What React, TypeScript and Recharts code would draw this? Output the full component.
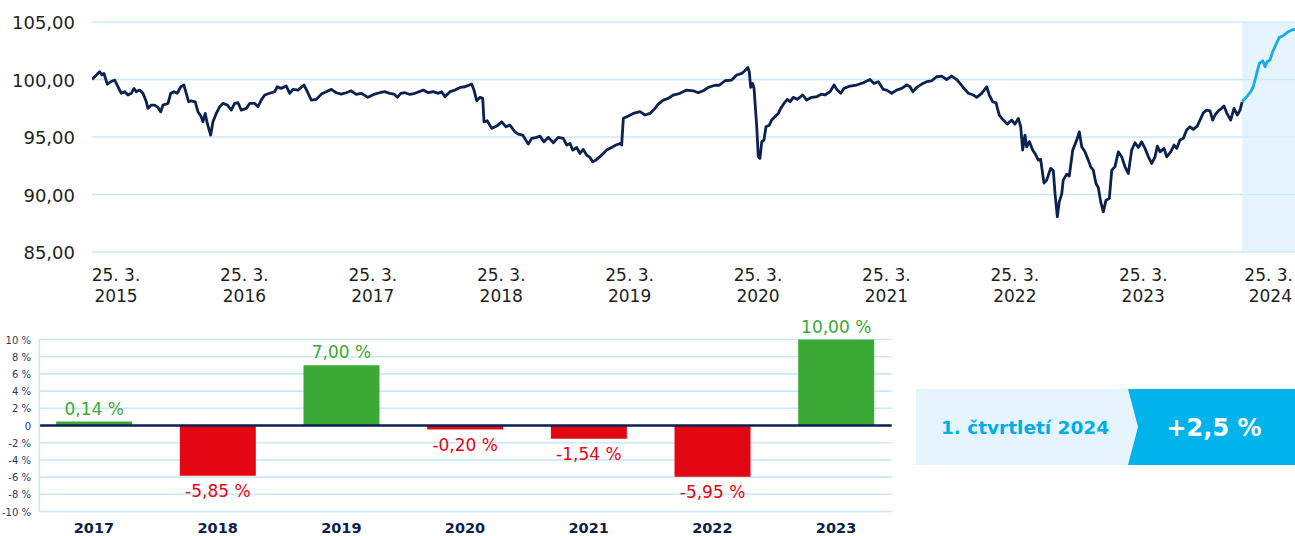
import React from 'react';
import {
  LineChart,
  Line,
  XAxis,
  YAxis,
  CartesianGrid,
  ReferenceArea,
  BarChart,
  Bar,
  Cell,
  LabelList,
  ReferenceLine,
} from 'recharts';

const FONT = '"DejaVu Sans", "Noto Sans", sans-serif';

// ---- Top chart: index value (years since 1. 1. 2015) ----
const historyT = [
  0.043, 0.076, 0.103, 0.121, 0.136, 0.162, 0.188, 0.22, 0.245, 0.271, 0.298, 0.323, 0.349, 0.37, 0.388,
  0.414, 0.44, 0.466, 0.479, 0.505, 0.531, 0.557, 0.578, 0.596, 0.635, 0.656, 0.681, 0.707, 0.734, 0.759,
  0.777, 0.796, 0.816, 0.847, 0.868, 0.894, 0.907, 0.925, 0.941, 0.967, 0.985, 1.011, 1.037, 1.063, 1.097,
  1.128, 1.154, 1.18, 1.206, 1.245, 1.271, 1.31, 1.336, 1.361, 1.388, 1.427, 1.466, 1.486, 1.517, 1.556,
  1.583, 1.608, 1.647, 1.694, 1.72, 1.751, 1.79, 1.829, 1.868, 1.907, 1.945, 1.984, 2.023, 2.062, 2.101,
  2.14, 2.192, 2.245, 2.283, 2.322, 2.361, 2.395, 2.421, 2.447, 2.481, 2.519, 2.558, 2.623, 2.662, 2.701,
  2.74, 2.766, 2.792, 2.831, 2.87, 2.909, 2.948, 3.0, 3.018, 3.039, 3.065, 3.086, 3.096, 3.121, 3.156,
  3.195, 3.234, 3.267, 3.298, 3.337, 3.363, 3.397, 3.441, 3.467, 3.506, 3.532, 3.563, 3.597, 3.636, 3.674,
  3.713, 3.74, 3.766, 3.787, 3.818, 3.843, 3.869, 3.896, 3.921, 3.942, 3.974, 4.012, 4.051, 4.09, 4.124,
  4.155, 4.168, 4.181, 4.22, 4.259, 4.311, 4.35, 4.389, 4.428, 4.453, 4.492, 4.531, 4.57, 4.622, 4.674,
  4.726, 4.765, 4.804, 4.843, 4.895, 4.928, 4.973, 5.025, 5.064, 5.103, 5.128, 5.15, 5.162, 5.173, 5.188,
  5.199, 5.22, 5.232, 5.245, 5.259, 5.276, 5.292, 5.318, 5.336, 5.362, 5.388, 5.407, 5.432, 5.458, 5.479,
  5.505, 5.536, 5.578, 5.609, 5.648, 5.687, 5.726, 5.752, 5.791, 5.822, 5.847, 5.874, 5.9, 5.946, 5.998,
  6.05, 6.102, 6.133, 6.167, 6.206, 6.232, 6.271, 6.31, 6.349, 6.388, 6.414, 6.435, 6.466, 6.505, 6.544,
  6.583, 6.621, 6.66, 6.699, 6.738, 6.777, 6.803, 6.834, 6.868, 6.907, 6.933, 6.972, 7.011, 7.031, 7.058,
  7.083, 7.109, 7.14, 7.171, 7.206, 7.231, 7.257, 7.276, 7.291, 7.309, 7.322, 7.343, 7.369, 7.387, 7.413,
  7.431, 7.457, 7.478, 7.509, 7.53, 7.543, 7.561, 7.576, 7.595, 7.607, 7.634, 7.654, 7.681, 7.712, 7.732,
  7.751, 7.776, 7.802, 7.821, 7.841, 7.862, 7.88, 7.899, 7.919, 7.94, 7.966, 7.985, 8.01, 8.036, 8.062,
  8.088, 8.114, 8.14, 8.166, 8.192, 8.218, 8.244, 8.27, 8.296, 8.322, 8.34, 8.361, 8.392, 8.413, 8.444,
  8.47, 8.491, 8.516, 8.542, 8.568, 8.594, 8.62, 8.651, 8.672, 8.698, 8.724, 8.75, 8.771, 8.789, 8.815,
  8.841, 8.859, 8.88, 8.911, 8.937, 8.963, 8.984, 9.0,
];
const historyValues = [
  100.0, 100.39, 100.67, 100.4, 100.53, 99.6, 99.8, 99.95, 99.37, 98.8, 98.94, 98.65, 98.8, 99.23, 98.94,
  99.08, 98.8, 98.06, 97.49, 97.78, 97.78, 97.57, 97.2, 97.78, 97.92, 98.8, 98.94, 98.8, 99.37, 99.52,
  98.8, 98.06, 98.15, 98.06, 97.2, 96.76, 96.32, 97.05, 96.18, 95.17, 96.32, 97.05, 97.63, 97.92, 97.78,
  97.34, 97.92, 97.98, 97.34, 97.49, 97.92, 97.92, 97.63, 98.21, 98.65, 98.8, 98.94, 99.37, 99.23, 99.43,
  98.8, 99.14, 99.08, 99.52, 98.94, 98.21, 98.27, 98.73, 98.94, 99.14, 98.85, 98.73, 98.85, 99.02, 98.7,
  98.8, 98.45, 98.73, 98.85, 98.94, 98.8, 98.73, 98.45, 98.8, 98.85, 98.7, 98.8, 99.08, 98.85, 98.94,
  98.8, 98.94, 98.5, 98.94, 99.08, 99.31, 99.37, 99.6, 99.08, 98.15, 98.45, 98.36, 96.32, 96.41, 95.75,
  95.95, 96.32, 95.89, 96.03, 95.45, 95.25, 95.17, 94.38, 94.88, 94.97, 95.08, 94.58, 94.97, 94.5, 94.97,
  94.88, 94.3, 94.44, 93.86, 94.09, 93.57, 93.92, 93.42, 93.22, 92.84, 93.05, 93.42, 93.86, 94.09, 94.3,
  94.44, 94.3, 96.62, 96.82, 97.05, 97.2, 96.91, 97.05, 97.49, 97.86, 98.21, 98.36, 98.65, 98.8, 99.08,
  99.02, 98.85, 99.02, 99.31, 99.5, 99.5, 99.89, 99.95, 100.39, 100.53, 100.76, 101.05, 100.67, 99.31, 99.66,
  99.23, 95.89, 93.28, 93.14, 94.58, 94.73, 95.89, 96.03, 96.47, 96.76, 97.05, 97.49, 97.92, 98.27, 98.06,
  98.45, 98.27, 98.65, 98.21, 98.45, 98.5, 98.73, 98.65, 98.94, 99.52, 99.08, 98.8, 99.23, 99.43, 99.52,
  99.72, 100.0, 99.66, 99.81, 99.14, 99.08, 98.8, 99.08, 99.23, 99.52, 99.37, 98.94, 99.31, 99.6, 99.81,
  99.89, 100.24, 100.3, 100.0, 100.3, 100.0, 99.66, 99.23, 98.8, 98.65, 98.45, 98.8, 99.37, 98.65, 98.06,
  97.98, 96.91, 96.47, 96.12, 96.47, 96.12, 96.62, 95.89, 93.86, 95.17, 94.15, 94.6, 93.86, 93.57, 92.99,
  93.05, 91.0, 91.25, 92.27, 92.06, 90.09, 88.06, 89.36, 90.03, 91.25, 91.77, 91.6, 93.86, 94.73, 95.45,
  94.15, 93.71, 92.99, 92.41, 92.12, 90.96, 90.61, 89.36, 88.49, 89.51, 89.66, 92.12, 92.41, 93.71, 93.28,
  92.41, 91.83, 93.86, 94.5, 94.09, 94.58, 94.01, 93.28, 92.7, 93.28, 94.21, 93.71, 94.01, 93.28, 93.71,
  94.3, 94.01, 94.73, 94.88, 95.6, 95.89, 95.66, 95.95, 96.47, 97.1, 97.34, 97.28, 96.47, 96.91, 97.28,
  97.49, 97.69, 97.1, 96.47, 97.49, 96.91, 97.34, 98.06,
];
const q1T = [9.0, 9.036, 9.067, 9.087, 9.114, 9.134, 9.161, 9.179, 9.196, 9.217, 9.238, 9.264, 9.29, 9.316, 9.334, 9.36, 9.386, 9.412];
const q1Values = [98.06, 98.5, 98.94, 99.37, 100.53, 101.4, 101.63, 101.11, 101.55, 101.69, 102.41, 103.08, 103.66, 103.78, 103.95, 104.16, 104.3, 104.36];

const startYear = 2015;
const topYTicks = [85, 90, 95, 100, 105];
const tickYears = [2015, 2016, 2017, 2018, 2019, 2020, 2021, 2022, 2023, 2024];
const tickDayMonth = '25. 3.';
const tickDayFraction = 0.23; // 25. 3. within the year
const q1Start = 2024.0;

// ---- Bottom chart: yearly returns ----
const barYears = ['2017', '2018', '2019', '2020', '2021', '2022', '2023'];
const barValues = [0.14, -5.85, 7.0, -0.2, -1.54, -5.95, 10.0];
const barYTicks = [-10, -8, -6, -4, -2, 0, 2, 4, 6, 8, 10];

// ---- Badge ----
const badgePeriod = '1. čtvrtletí 2024';
const badgeValue = '+2,5 %';

const NAVY = '#0b2150';
const CYAN = '#17ace3';
const GRID = '#cce7fb';
const GREEN = '#3aa935';
const RED = '#e30613';

const historyData = historyT.map((t, i) => ({ x: startYear + t, v: historyValues[i] }));
const q1Data = q1T.map((t, i) => ({ x: startYear + t, v: q1Values[i] }));
const xTicks = tickYears.map((y) => y + tickDayFraction);

const barData = barYears.map((y, i) => ({ i, year: y, value: barValues[i] }));

const fmtComma = (v: number, d: number) => v.toFixed(d).replace('.', ',');

const TopYTick = (props: any) => {
  const { y, payload } = props;
  return (
    <text x={75} y={y + 7} textAnchor="end" fontFamily={FONT} fontSize={18} fill="#231f20">
      {fmtComma(payload.value, 2)}
    </text>
  );
};

const TopXTick = (props: any) => {
  const { x, payload } = props;
  const year = Math.floor(payload.value);
  const nearEdge = x + 24 > 1293;
  const tx = nearEdge ? 1293 : x;
  const anchor = nearEdge ? 'end' : 'middle';
  return (
    <g>
      <text x={tx} y={280.5} textAnchor={anchor} fontFamily={FONT} fontSize={17} fill="#231f20">
        {tickDayMonth}
      </text>
      <text x={nearEdge ? tx - 1 : tx} y={302} textAnchor={anchor} fontFamily={FONT} fontSize={17} fill="#231f20">
        {year}
      </text>
    </g>
  );
};

const BarYTick = (props: any) => {
  const { y, payload } = props;
  const v = payload.value;
  return (
    <text x={31} y={y + 4} textAnchor="end" fontFamily={FONT} fontSize={10} fill="#2f3a5a">
      {v === 0 ? '0' : `${v} %`}
    </text>
  );
};

const BarXTick = (props: any) => {
  const { x, payload } = props;
  return (
    <text x={x} y={223} textAnchor="middle" fontFamily={FONT} fontSize={14.5} fontWeight="bold" fill="#0d1f4b">
      {barYears[payload.value]}
    </text>
  );
};

const BarValueLabel = (props: any) => {
  const { x, y, width, height, value } = props;
  const top = Math.min(y, y + height);
  const bottom = Math.max(y, y + height);
  const cx = x + width / 2;
  const pos = value >= 0;
  return (
    <text
      x={cx}
      y={pos ? top - 7 : bottom + 21}
      textAnchor="middle"
      fontFamily={FONT}
      fontSize={17}
      fill={pos ? GREEN : RED}
    >
      {`${fmtComma(value, 2)} %`}
    </text>
  );
};

export default function App() {
  return (
    <div style={{ position: 'absolute', left: 0, top: 0, width: 1295, height: 536, background: '#fff', overflow: 'hidden' }}>
      <div style={{ position: 'absolute', left: 0, top: 0 }}>
        <LineChart width={1295} height={310} margin={{ top: 22, right: 0, bottom: 0, left: 0 }}>
          <ReferenceArea
            x1={q1Start}
            x2={startYear + 9.412}
            y1={85}
            y2={105}
            fill="#d6effc"
            fillOpacity={0.6}
            stroke="none"
            ifOverflow="visible"
          />
          <CartesianGrid vertical={false} stroke={GRID} strokeWidth={1.6} />
          <XAxis
            dataKey="x"
            type="number"
            domain={[startYear + 0.043, startYear + 9.412]}
            allowDataOverflow
            ticks={xTicks}
            interval={0}
            axisLine={false}
            tickLine={false}
            height={58}
            tick={<TopXTick />}
          />
          <YAxis
            type="number"
            domain={[85, 105]}
            ticks={topYTicks}
            interval={0}
            axisLine={false}
            tickLine={false}
            width={92}
            tick={<TopYTick />}
          />
          <Line
            data={historyData}
            dataKey="v"
            type="linear"
            stroke={NAVY}
            strokeWidth={2.8}
            strokeLinejoin="round"
            dot={false}
            isAnimationActive={false}
          />
          <Line
            data={q1Data}
            dataKey="v"
            type="linear"
            stroke={CYAN}
            strokeWidth={2.8}
            strokeLinejoin="round"
            dot={false}
            isAnimationActive={false}
          />
        </LineChart>
      </div>

      <div style={{ position: 'absolute', left: 0, top: 310 }}>
        <BarChart width={900} height={226} data={barData} margin={{ top: 29.5, right: 8.3, bottom: 0, left: 0 }}>
          <CartesianGrid vertical={false} stroke={GRID} strokeWidth={1.6} />
          <XAxis
            dataKey="i"
            type="number"
            domain={[-0.442, 6.45]}
            allowDataOverflow
            ticks={[0, 1, 2, 3, 4, 5, 6]}
            interval={0}
            axisLine={false}
            tickLine={false}
            height={24.5}
            tick={<BarXTick />}
          />
          <YAxis
            type="number"
            domain={[-10, 10]}
            ticks={barYTicks}
            interval={0}
            axisLine={{ stroke: GRID, strokeWidth: 1.6 }}
            tickLine={false}
            width={39.3}
            tick={<BarYTick />}
          />
          <Bar dataKey="value" barSize={76} minPointSize={4} isAnimationActive={false}>
            {barData.map((d) => (
              <Cell key={d.year} fill={d.value >= 0 ? GREEN : RED} />
            ))}
            <LabelList dataKey="value" content={<BarValueLabel />} />
          </Bar>
          <ReferenceLine y={0} stroke={NAVY} strokeWidth={2.6} />
        </BarChart>
      </div>

      <svg style={{ position: 'absolute', left: 916, top: 389 }} width={379} height={76}>
        <rect x={0} y={0} width={379} height={76} fill="#e6f5fd" />
        <polygon points="212,0 379,0 379,76 212,76 222,38" fill="#00b3ea" />
        <text x={109} y={44.5} textAnchor="middle" fontFamily={FONT} fontSize={18.5} fontWeight="bold" fill="#00aee6">
          {badgePeriod}
        </text>
        <text x={298} y={47} textAnchor="middle" fontFamily={FONT} fontSize={24} fontWeight="bold" fill="#ffffff">
          {badgeValue}
        </text>
      </svg>
    </div>
  );
}
